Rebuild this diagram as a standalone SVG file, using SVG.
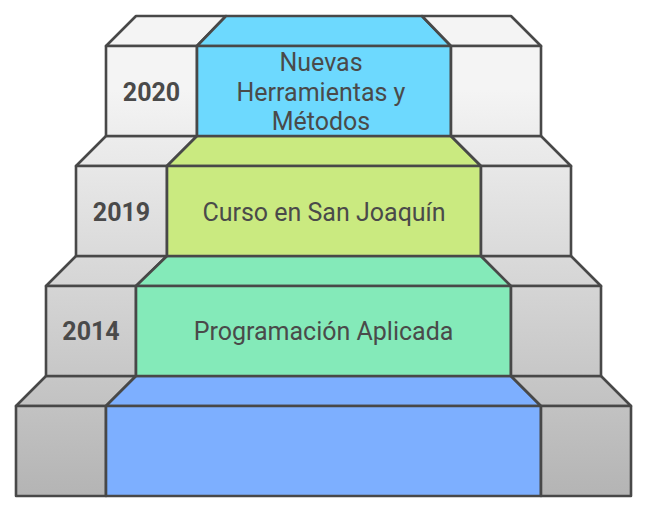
<svg xmlns="http://www.w3.org/2000/svg" width="648" height="513" viewBox="0 0 648 513">
<defs>
<linearGradient id="g" gradientUnits="userSpaceOnUse" x1="0" y1="90" x2="0" y2="496">
<stop offset="0" stop-color="#f4f4f4"/>
<stop offset="1" stop-color="#b4b4b4"/>
</linearGradient>
<style>
.s{stroke:#484848;stroke-width:2.6;stroke-linejoin:round}
.gr{fill:url(#g)}
.c1{fill:#6dd9fe}.c2{fill:#caea80}.c3{fill:#84eab9}.c4{fill:#7dafff}
.yr{font-family:Roboto,"Liberation Sans",sans-serif;font-weight:bold;font-size:25px;fill:#4a4a4a;text-anchor:middle}
.lb{font-family:Roboto,"Liberation Sans",sans-serif;font-size:25px;fill:#4a4a4a;text-anchor:middle}
</style>
</defs>
<rect width="648" height="513" fill="#ffffff"/>
<g id="step-base">
<polygon class="s gr" points="16,406 46,376 136,376 106,406"/>
<polygon class="s c4" points="106,406 136,376 511,376 541,406"/>
<polygon class="s gr" points="541,406 511,376 601,376 631,406"/>
<rect class="s gr" x="16" y="406" width="90" height="90"/>
<rect class="s c4" x="106" y="406" width="435" height="90"/>
<rect class="s gr" x="541" y="406" width="90" height="90"/>
</g>
<g id="step-2014">
<polygon class="s gr" points="46,286 76,256 167,256 136,286"/>
<polygon class="s c3" points="136,286 167,256 481,256 511,286"/>
<polygon class="s gr" points="511,286 481,256 571,256 601,286"/>
<rect class="s gr" x="46" y="286" width="90" height="90"/>
<rect class="s c3" x="136" y="286" width="375" height="90"/>
<rect class="s gr" x="511" y="286" width="90" height="90"/>
<text class="yr" x="91" y="340">2014</text>
<text class="lb" x="323.5" y="340">Programación Aplicada</text>
</g>
<g id="step-2019">
<polygon class="s gr" points="76,166 106,136 197,136 167,166"/>
<polygon class="s c2" points="167,166 197,136 451,136 481,166"/>
<polygon class="s gr" points="481,166 451,136 541,136 571,166"/>
<rect class="s gr" x="76" y="166" width="91" height="90"/>
<rect class="s c2" x="167" y="166" width="314" height="90"/>
<rect class="s gr" x="481" y="166" width="90" height="90"/>
<text class="yr" x="121.5" y="220.5">2019</text>
<text class="lb" x="324" y="220.5">Curso en San Joaquín</text>
</g>
<g id="step-2020">
<polygon class="s gr" points="106,46 136,16 226,16 197,46"/>
<polygon class="s c1" points="197,46 226,16 422,16 451,46"/>
<polygon class="s gr" points="451,46 422,16 511,16 541,46"/>
<rect class="s gr" x="106" y="46" width="91" height="90"/>
<rect class="s c1" x="197" y="46" width="254" height="90"/>
<rect class="s gr" x="451" y="46" width="90" height="90"/>
<text class="yr" x="151.5" y="100.5">2020</text>
<text class="lb" x="321" y="70.5">Nuevas</text>
<text class="lb" x="321" y="100.5">Herramientas y</text>
<text class="lb" x="321" y="130">Métodos</text>
</g>
<g id="connectors"></g>
</svg>
